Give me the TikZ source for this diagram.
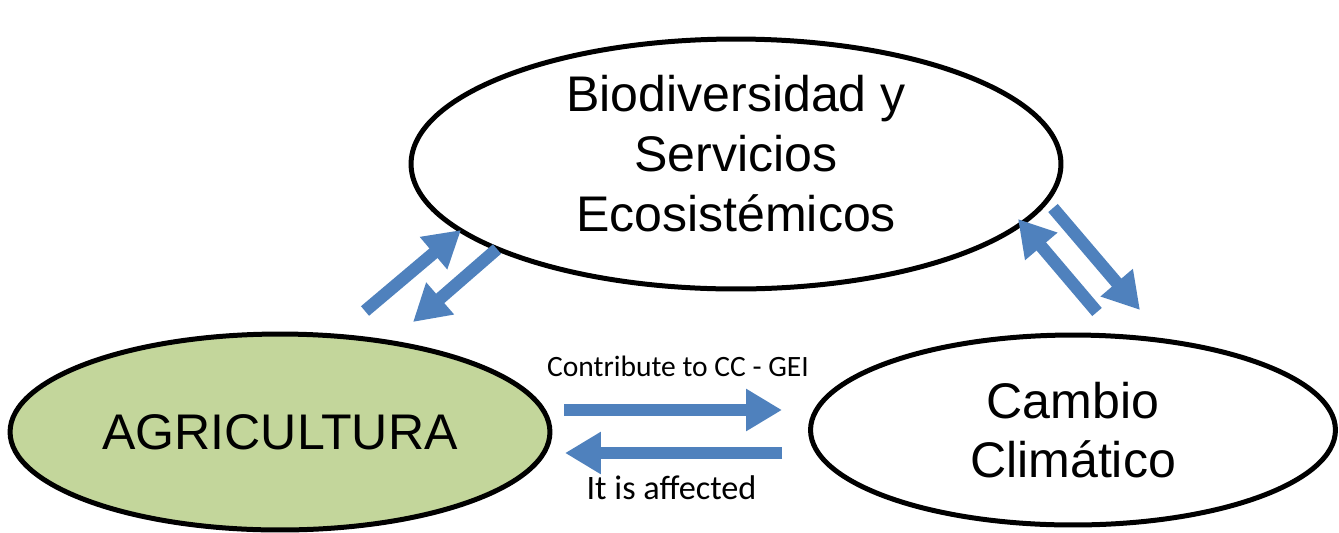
\documentclass[tikz,border=0pt]{standalone}
\usepackage{fontspec}
\setmainfont{Liberation Sans}
\newfontfamily\labelfont{Carlito}
\usetikzlibrary{shapes.geometric,arrows.meta}
\definecolor{arrowblue}{HTML}{4F81BD}
\definecolor{agrigreen}{HTML}{C3D69B}
\begin{document}
\begin{tikzpicture}[x=0.02cm,y=-0.02cm,
    bubble/.style={draw=black,line width=0.1cm,shape=ellipse,inner sep=0pt,
      align=center,font=\fontsize{28.5}{34}\selectfont},
    fatarrow/.style={draw=arrowblue,line width=0.25cm,
      -{Triangle[width=0.8cm,length=0.72cm]}},
    note/.style={font=\labelfont\fontsize{16.8}{19}\selectfont}]
      \useasboundingbox (0,0) rectangle (1339,532) ;
      % the three ellipses
      \node[bubble,fill=white,minimum width=13cm,minimum height=4.9cm,text depth=0.42cm] %
      (bio) at (736,164) {Biodiversidad y\\Servicios\\Ecosistémicos} ;
      \node[bubble,fill=agrigreen,minimum width=10.8cm,minimum height=3.92cm] %
      (agri) at (280,432) {AGRICULTURA} ;
      \node[bubble,fill=white,minimum width=10.5cm,minimum height=3.8cm] %
      (cc) at (1073,430) {Cambio\\Climático} ;
      % ends of the arrows
      \coordinate (a1) at (365,311) ; \coordinate (b1) at (461,230) ;
      \coordinate (b2) at (497,249) ; \coordinate (a2) at (413,322) ;
      \coordinate (c1) at (1097,312) ; \coordinate (b3) at (1018,219) ;
      \coordinate (b4) at (1053,208) ; \coordinate (c2) at (1140,310) ;
      \coordinate (a3) at (564,410) ; \coordinate (c3) at (782,410) ;
      \coordinate (c4) at (782,453) ; \coordinate (a4) at (565,453) ;
      \draw[fatarrow] (a1)--(b1) ;
      \draw[fatarrow] (b2)--(a2) ;
      \draw[fatarrow] (c1)--(b3) ;
      \draw[fatarrow] (b4)--(c2) ;
      \draw[fatarrow] (a3)--(c3) node[note,midway,above=0.42cm,xshift=0.1cm] (up) {Contribute to CC - GEI} ;
      \draw[fatarrow] (c4)--(a4) node[note,font=\labelfont\fontsize{19.5}{22}\selectfont,midway,below=0.22cm,xshift=-0.04cm] (down) {It is affected} ;
    \end{tikzpicture}
\end{document}
